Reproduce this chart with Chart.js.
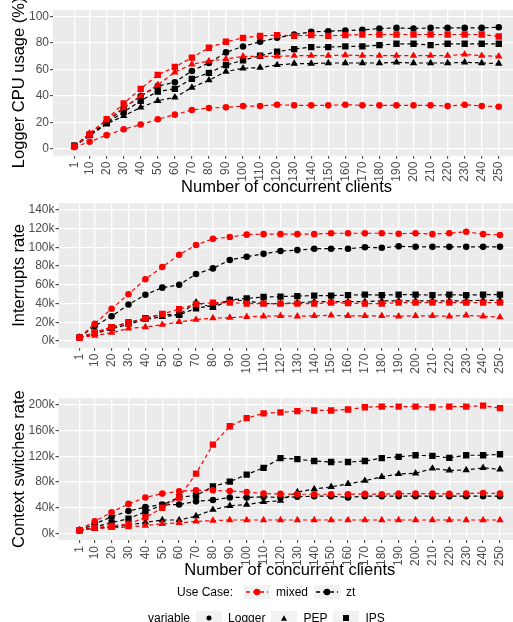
<!DOCTYPE html>
<html>
<head>
<meta charset="utf-8">
<script src="https://cdn.jsdelivr.net/npm/chart.js@4.4.1/dist/chart.umd.min.js"></script>
<style>
    html, body { margin: 0; padding: 0; background: #fff; width: 513px; height: 622px; overflow: hidden; }
    canvas { position: absolute; left: 0; }
    .legend-row {
        position: absolute; display: flex; align-items: center; height: 14px;
        font-family: "Liberation Sans", Arial, sans-serif; font-size: 12px; color: #000; white-space: nowrap;
    }
    .legend-row svg { display: block; }
</style>
</head>
<body>
<canvas id="cpu-chart" width="530" height="200" style="top:0px"></canvas>
<canvas id="interrupts-chart" width="530" height="195" style="top:195px"></canvas>
<canvas id="context-chart" width="530" height="200" style="top:390px"></canvas>
<div class="legend-row" id="legend-usecase" style="left:177px; top:585px"></div>
<div class="legend-row" id="legend-variable" style="left:148px; top:611px"></div>
<script>
// x axis: number of concurrent clients
const clients = [1, 10, 20, 30, 40, 50, 60, 70, 80, 90, 100, 110, 120, 130, 140, 150, 160, 170, 180, 190, 200, 210, 220, 230, 240, 250];

// Panel 1 - Logger CPU usage (%)
const cpuMixedLogger = [1.5, 5.5, 10.5, 15, 18.5, 22.5, 26, 29.5, 31, 31.5, 32.5, 32.5, 33.5, 33, 33, 33, 33.5, 33, 33, 33, 33, 33, 32.5, 33.5, 32.5, 32];
const cpuMixedPEP = [2, 12, 22, 31, 40, 48.5, 58, 64, 66.5, 68, 70, 70, 70, 70.5, 70.5, 70.5, 71, 70.5, 70.5, 70.5, 70.5, 70.5, 70.5, 71.5, 70.5, 70];
const cpuMixedIPS = [2, 11, 22.5, 34.5, 45.5, 56, 62, 69, 76.5, 81, 84, 85.5, 86, 85.5, 86, 85.5, 86, 86.5, 86.5, 86.5, 86.5, 86.5, 86.5, 86.5, 86.5, 85];
const cpuZtLogger = [2.5, 11, 20, 31, 40, 47.5, 50.5, 59, 65, 73, 77.5, 81, 84, 86.5, 88.5, 89, 89.5, 90, 91, 91.5, 91, 91.5, 91.5, 91.5, 91.5, 92];
const cpuZtPEP = [2, 10, 19, 25, 31.5, 36.5, 39, 46.5, 52, 58.5, 61, 61.5, 63.5, 64.5, 64.5, 65, 65, 65, 65, 65.5, 65, 65, 65, 65.5, 65, 64.5];
const cpuZtIPS = [2.5, 10.5, 19.5, 28, 36.5, 43.5, 45.5, 53, 57.5, 63.5, 67, 70.5, 73.5, 75.5, 77, 77, 77.5, 77.5, 78.5, 79.5, 79.5, 78.5, 79.5, 79.5, 79.5, 79.5];
const cpuTicks = [0, 20, 40, 60, 80, 100];

// Panel 2 - Interrupts rate (thousands)
const intMixedLogger = [4, 18.5, 34.5, 50, 66, 79, 92, 102.5, 109, 111, 113.5, 114, 114, 114, 114, 115, 115, 115, 115, 114.5, 115, 114, 115, 116.5, 114, 113];
const intMixedPEP = [3.5, 6, 9, 13.5, 15, 17.5, 20.5, 23, 24.5, 25, 26, 26.5, 27, 26.5, 27, 27.5, 27, 27, 27, 26.5, 27, 27, 26.5, 27.5, 26.5, 25.5];
const intMixedIPS = [3.5, 9, 15, 19, 24, 29, 34, 39.5, 41, 41, 40, 40, 40, 40, 40, 41, 40.5, 40, 40, 41, 41, 41, 41, 41, 41, 41];
const intZtLogger = [4, 16, 26.5, 39, 49.5, 57, 60, 71.5, 77.5, 86.5, 90, 93, 96, 97, 98.5, 98.5, 98.5, 100, 99.5, 101, 100.5, 100.5, 100.5, 100.5, 100.5, 100.5];
const intZtPEP = [4, 8, 13, 18, 23, 26, 28, 41.5, 35.5, 44, 43, 40, 40, 41, 42, 42, 42, 42, 43, 43, 43, 43, 43, 43, 43.5, 43.5];
const intZtIPS = [4, 9, 15, 20, 24.5, 28.5, 28, 35, 38, 44, 45.5, 47, 47.5, 48, 48.5, 48.5, 49, 49.5, 49, 49.5, 49.5, 49, 49.5, 49, 49.5, 49.5];
const intTicks = [0, 20, 40, 60, 80, 100, 120, 140];

// Panel 3 - Context switches rate (thousands)
const csMixedLogger = [6, 19, 33, 46, 56, 62, 65.5, 67, 67, 66, 64.5, 62, 61.5, 61, 61, 61, 61, 61.5, 61, 62, 62, 62, 61.5, 62, 63, 62];
const csMixedPEP = [5, 8, 9, 10, 12.5, 15, 16.5, 19, 20, 21, 21, 21, 21, 21, 21, 21, 21, 21, 21, 21, 21, 21, 21, 21, 21, 21];
const csMixedIPS = [5, 9, 12, 15, 25, 40, 56, 93, 138, 166.5, 179, 186.5, 188, 190, 191, 191, 192.5, 196, 197, 197, 197, 196, 197, 197, 198.5, 194.5];
const csZtLogger = [5, 15, 26, 35, 41, 45, 45, 50, 52, 56, 56, 57, 56, 57, 58, 58, 56, 58, 58, 58, 58, 58, 58, 58, 58, 58];
const csZtPEP = [5, 8, 10, 13, 17.5, 21, 21, 27, 37, 43, 45, 49, 51, 64.5, 69, 72.5, 77, 82, 88, 92.5, 93.5, 101, 98, 98.5, 102, 99.5];
const csZtIPS = [5, 10, 17, 23, 34, 44, 56.5, 59, 73, 80.5, 91.5, 102, 117, 115.5, 112.5, 111, 111, 112.5, 117, 119, 121.5, 120.5, 117.5, 121.5, 121.5, 123];
const csTicks = [0, 40, 80, 120, 160, 200];

// legend entries
const useCases = ['mixed', 'zt'];
const variables = ['Logger', 'PEP', 'IPS'];

const FONT = '"Liberation Sans", Arial, sans-serif';
const caseColors = { mixed: '#FF0000', zt: '#000000' };
const shapeStyles = {
    Logger: { pointStyle: 'circle', radius: 3.3 },
    PEP: { pointStyle: 'triangle', radius: 4.3 },
    IPS: { pointStyle: 'rect', radius: 4.5 }
};

Chart.defaults.font.family = FONT;

// grey panel background like ggplot
const panelBg = {
    id: 'panelBg',
    beforeDraw(chart) {
        const { ctx, chartArea: a } = chart;
        ctx.save();
        ctx.fillStyle = '#EBEBEB';
        ctx.fillRect(a.left, a.top, a.right - a.left, a.bottom - a.top);
        ctx.restore();
    }
};

// rotated y title, not squeezed to the panel height (it overflows like the original)
const yTitle = {
    id: 'yTitle',
    afterDraw(chart, args, opts) {
        const { ctx, chartArea: a } = chart;
        ctx.save();
        ctx.translate(opts.x, (a.top + a.bottom) / 2);
        ctx.rotate(-Math.PI / 2);
        ctx.font = '16.5px ' + FONT;
        ctx.fillStyle = '#000';
        ctx.textAlign = 'center';
        ctx.textBaseline = 'alphabetic';
        ctx.fillText(opts.text, 0, 0);
        ctx.restore();
    }
};

function makeDataset(useCase, variable, values) {
    const color = caseColors[useCase];
    const shape = shapeStyles[variable];
    return {
        label: useCase + ' ' + variable,
        data: clients.map((c, i) => ({ x: c, y: values[i] })),
        borderColor: color,
        backgroundColor: color,
        borderWidth: 1.2,
        borderDash: [4, 3],
        pointStyle: shape.pointStyle,
        pointRadius: shape.radius,
        pointHoverRadius: shape.radius,
        pointBorderWidth: 0,
        pointBackgroundColor: color,
        tension: 0,
        fill: false
    };
}

function makePanel(canvasId, cfg) {
    const ctx = document.getElementById(canvasId).getContext('2d');
    return new Chart(ctx, {
        type: 'line',
        data: { datasets: cfg.datasets },
        plugins: [panelBg, yTitle],
        options: {
            responsive: false,
            animation: false,
            events: [],
            layout: { padding: { top: cfg.padTop, right: cfg.padRight, left: 0, bottom: 0 } },
            plugins: {
                legend: { display: false },
                tooltip: { enabled: false },
                yTitle: { text: cfg.yTitle, x: 24 }
            },
            scales: {
                x: {
                    type: 'linear',
                    min: -11.45,
                    max: 262.45,
                    afterBuildTicks: s => { s.ticks = clients.map(v => ({ value: v })); },
                    afterFit: s => { s.height = cfg.xHeight; },
                    ticks: {
                        autoSkip: false,
                        minRotation: 90,
                        maxRotation: 90,
                        padding: 3,
                        color: '#4D4D4D',
                        font: { size: 12 },
                        callback: v => String(v)
                    },
                    grid: { color: '#FFFFFF', lineWidth: 1.3, tickColor: '#333333', tickLength: 3, tickWidth: 1 },
                    border: { display: false },
                    title: {
                        display: !!cfg.xTitle,
                        text: cfg.xTitle || '',
                        color: '#000',
                        font: { size: 16.5 },
                        padding: { top: 0, bottom: cfg.xTitlePad || 0 }
                    }
                },
                y: {
                    min: cfg.yMin,
                    max: cfg.yMax,
                    afterBuildTicks: s => { s.ticks = cfg.yTicks.map(v => ({ value: v })); },
                    afterFit: s => { s.width = cfg.yWidth; },
                    ticks: {
                        padding: 1,
                        color: '#4D4D4D',
                        font: { size: 12 },
                        callback: cfg.yLabel
                    },
                    grid: { color: '#FFFFFF', lineWidth: 1.3, tickColor: '#333333', tickLength: 3, tickWidth: 1 },
                    border: { display: false }
                }
            }
        }
    });
}

const kLabel = v => v + 'k';

makePanel('cpu-chart', {
    datasets: [
        makeDataset('mixed', 'Logger', cpuMixedLogger),
        makeDataset('mixed', 'PEP', cpuMixedPEP),
        makeDataset('mixed', 'IPS', cpuMixedIPS),
        makeDataset('zt', 'Logger', cpuZtLogger),
        makeDataset('zt', 'PEP', cpuZtPEP),
        makeDataset('zt', 'IPS', cpuZtIPS)
    ],
    yTitle: 'Logger CPU usage (%)',
    yMin: -5, yMax: 105, yTicks: cpuTicks, yLabel: v => String(v),
    padTop: 10, padRight: 10, yWidth: 53, xHeight: 44.3,
    xTitle: 'Number of concurrent clients', xTitlePad: 3
});

makePanel('interrupts-chart', {
    datasets: [
        makeDataset('mixed', 'Logger', intMixedLogger),
        makeDataset('mixed', 'PEP', intMixedPEP),
        makeDataset('mixed', 'IPS', intMixedIPS),
        makeDataset('zt', 'Logger', intZtLogger),
        makeDataset('zt', 'PEP', intZtPEP),
        makeDataset('zt', 'IPS', intZtIPS)
    ],
    yTitle: 'Interrupts rate',
    yMin: -7, yMax: 147, yTicks: intTicks, yLabel: kLabel,
    padTop: 6.7, padRight: 9, yWidth: 58.5, xHeight: 42.3
});

makePanel('context-chart', {
    datasets: [
        makeDataset('mixed', 'Logger', csMixedLogger),
        makeDataset('mixed', 'PEP', csMixedPEP),
        makeDataset('mixed', 'IPS', csMixedIPS),
        makeDataset('zt', 'Logger', csZtLogger),
        makeDataset('zt', 'PEP', csZtPEP),
        makeDataset('zt', 'IPS', csZtIPS)
    ],
    yTitle: 'Context switches rate',
    yMin: -10, yMax: 210, yTicks: csTicks, yLabel: kLabel,
    padTop: 4, padRight: 9, yWidth: 58.5, xHeight: 50,
    xTitle: 'Number of concurrent clients', xTitlePad: 9.6
});

// --- legends (html, ggplot-like keys) ---
function keySvg(inner) {
    return '<svg width="26" height="14"><rect width="26" height="14" fill="#F2F2F2"/>' + inner + '</svg>';
}

function shapeSvg(variable, color, size) {
    if (variable === 'Logger') return '<circle cx="13" cy="7" r="' + (size * 0.5) + '" fill="' + color + '"/>';
    if (variable === 'PEP') {
        const h = size * 0.9, w = size;
        return '<polygon points="' + (13 - w / 2) + ',' + (7 + h / 2) + ' ' + (13 + w / 2) + ',' + (7 + h / 2) + ' 13,' + (7 - h / 2) + '" fill="' + color + '"/>';
    }
    return '<rect x="' + (13 - size / 2) + '" y="' + (7 - size / 2) + '" width="' + size + '" height="' + size + '" fill="' + color + '"/>';
}

function addText(row, text, marginRight) {
    const span = document.createElement('span');
    span.textContent = text;
    span.style.marginRight = marginRight + 'px';
    row.appendChild(span);
}

function addKey(row, html) {
    const div = document.createElement('div');
    div.innerHTML = html;
    div.style.marginRight = '6px';
    row.appendChild(div.firstChild);
    row.lastChild.style.marginRight = '6px';
}

const useCaseRow = document.getElementById('legend-usecase');
addText(useCaseRow, 'Use Case:', 11);
useCases.forEach(uc => {
    const c = caseColors[uc];
    addKey(useCaseRow, keySvg('<line x1="2" y1="7" x2="24" y2="7" stroke="' + c + '" stroke-width="1.3" stroke-dasharray="4 3"/>' + shapeSvg('Logger', c, 6.5)));
    addText(useCaseRow, uc, 6);
});

const variableRow = document.getElementById('legend-variable');
addText(variableRow, 'variable', 6);
variables.forEach(v => {
    addKey(variableRow, keySvg(shapeSvg(v, '#000', v === 'Logger' ? 5 : 6)));
    addText(variableRow, v, 6);
});
</script>
</body>
</html>
